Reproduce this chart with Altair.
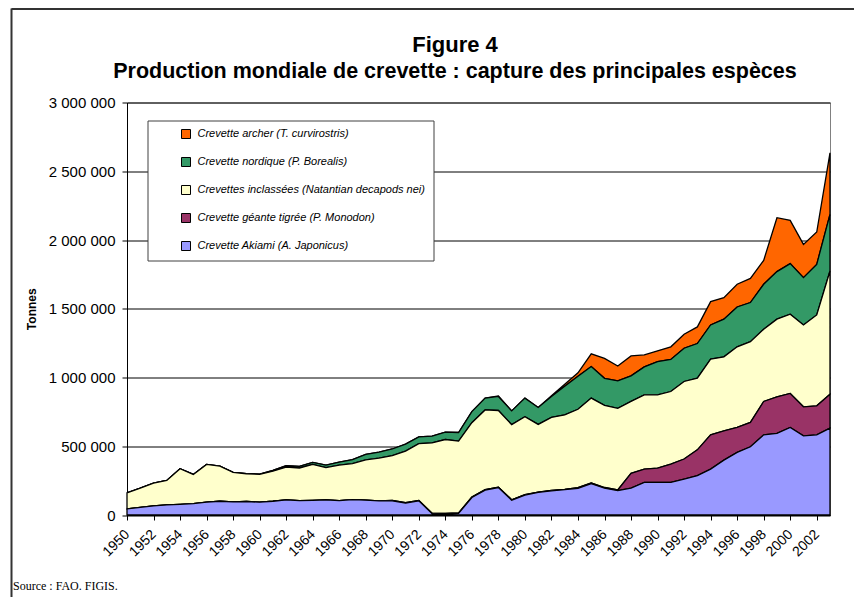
import altair as alt
import pandas as pd

years = list(range(1950, 2004))

# values in thousand tonnes
akiami = [44, 56, 66, 73, 78, 83, 93, 100, 95, 98,
          93, 100, 110, 105, 107, 110, 105, 112, 108, 103,
          103, 86, 103, 10, 8, 12, 127, 181, 200, 108,
          145, 164, 176, 184, 194, 228, 195, 177, 196, 237,
          237, 237, 261, 286, 334, 399, 455, 496, 583, 593,
          637, 576, 583, 632]
tigree = [0, 0, 0, 0, 0, 0, 0, 0, 0, 0,
          0, 0, 0, 0, 0, 0, 0, 0, 0, 0,
          3, 3, 3, 3, 3, 3, 3, 3, 3, 3,
          3, 3, 3, 3, 5, 5, 5, 5, 107, 97,
          104, 133, 146, 188, 249, 213, 182, 177, 243, 266,
          247, 211, 211, 247]
inclassees = [117, 139, 166, 178, 259, 212, 275, 256, 215, 202,
              203, 219, 239, 237, 261, 235, 258, 262, 293, 311,
              325, 376, 413, 511, 538, 522, 541, 580, 557, 546,
              567, 492, 531, 541, 570, 617, 597, 594, 523, 540,
              533, 528, 564, 521, 550, 538, 586, 588, 525, 565,
              576, 595, 661, 896]
nordique = [0, 0, 0, 0, 0, 0, 0, 0, 0, 0,
            2, 5, 9, 12, 15, 18, 22, 28, 40, 44,
            49, 50, 49, 49, 54, 63, 81, 86, 102, 100,
            135, 123, 152, 208, 240, 230, 197, 199, 186, 203,
            242, 233, 242, 252, 249, 274, 290, 284, 327, 346,
            368, 344, 368, 411]
archer = [0, 0, 0, 0, 0, 0, 0, 0, 0, 0,
          0, 0, 0, 0, 0, 0, 0, 0, 0, 0,
          0, 0, 0, 0, 0, 0, 0, 0, 3, 0,
          0, 0, 5, 15, 25, 92, 145, 109, 145, 87,
          78, 92, 102, 121, 170, 157, 165, 176, 174, 392,
          315, 242, 235, 448]

series_names = [
    "Crevette archer (T. curvirostris)",
    "Crevette nordique (P. Borealis)",
    "Crevettes inclassées (Natantian decapods nei)",
    "Crevette géante tigrée (P. Monodon)",
    "Crevette Akiami (A. Japonicus)",
]
series_colors = ["#FF6600", "#339966", "#FFFFCC", "#993366", "#9999FF"]
stack_rank = [4, 3, 2, 1, 0]
x_ticks = list(range(1950, 2003, 2))
y_ticks = [0, 500000, 1000000, 1500000, 2000000, 2500000, 3000000]

title_text = "Figure 4"
subtitle_text = "Production mondiale de crevette : capture des principales espèces"
source_text = "Source : FAO. FIGIS."

rows = []
for name, vals, rank in zip(series_names, [archer, nordique, inclassees, tigree, akiami], stack_rank):
    for yr, v in zip(years, vals):
        rows.append({"annee": yr, "serie": name, "tonnes": v * 1000, "rang": rank})
df = pd.DataFrame(rows)

FONT = "Liberation Sans"

area = alt.Chart(df).mark_area(stroke="black", strokeWidth=1.3, strokeJoin="miter").encode(
    x=alt.X("annee:Q",
            scale=alt.Scale(domain=[1950, 2003], nice=False, zero=False),
            axis=alt.Axis(values=x_ticks, format="d", labelAngle=-45, labelAlign="right",
                          labelBaseline="middle", labelFontSize=14, labelPadding=12,
                          grid=False, tickSize=5, labelFlush=False, labelOverlap=False),
            title=None),
    y=alt.Y("tonnes:Q", stack="zero",
            scale=alt.Scale(domain=[0, 3000000], nice=False),
            axis=alt.Axis(values=y_ticks,
                          labelExpr="replace(format(datum.value, ',d'), regexp(',', 'g'), ' ')",
                          labelFontSize=15, labelPadding=7, tickSize=5, grid=True,
                          gridColor="black", gridWidth=1, titleFontSize=12,
                          titleFontWeight="bold", titlePadding=10),
            title="Tonnes"),
    color=alt.Color("serie:N",
                    scale=alt.Scale(domain=series_names, range=series_colors),
                    sort=series_names,
                    legend=alt.Legend(orient="none", legendX=20.5, legendY=18, title=None,
                                      symbolType="square", symbolSize=81,
                                      symbolStrokeColor="black", symbolStrokeWidth=1,
                                      labelFont=FONT, labelFontStyle="italic",
                                      labelFontSize=11, labelColor="black",
                                      labelLimit=500, fillColor="white",
                                      strokeColor="#404040", padding=8, rowPadding=15,
                                      symbolOffset=25, labelOffset=6)),
    order=alt.Order("rang:Q", sort="ascending"),
)

def text_layer(txt, **kw):
    return alt.Chart(pd.DataFrame({"t": [txt]})).mark_text(color="black", **kw)

title_mark = text_layer(title_text, font=FONT, fontSize=22, fontWeight="bold", align="center",
                        baseline="alphabetic").encode(text="t:N", x=alt.value(328), y=alt.value(-50.5))
subtitle_mark = text_layer(subtitle_text, font=FONT, fontSize=21.5, fontWeight="bold", align="center",
                           baseline="alphabetic").encode(text="t:N", x=alt.value(328), y=alt.value(-25))
source_mark = text_layer(source_text, font="Liberation Serif", fontSize=12, align="left",
                         baseline="alphabetic").encode(text="t:N", x=alt.value(-114), y=alt.value(487))

border_left = alt.Chart(pd.DataFrame({"a": [0]})).mark_rule(color="#333333", strokeWidth=2).encode(
    x=alt.value(-115.5), y=alt.value(-94), y2=alt.value(495))
border_top = alt.Chart(pd.DataFrame({"a": [0]})).mark_rule(color="#333333", strokeWidth=2).encode(
    x=alt.value(-115.5), x2=alt.value(740), y=alt.value(-93.5))

chart = alt.layer(area, title_mark, subtitle_mark, source_mark, border_left, border_top).properties(
    width=703, height=412.5,
    autosize=alt.AutoSizeParams(type="none"),
    padding={"left": 119, "top": 94.5, "right": 24, "bottom": 82},
).configure_axis(
    labelFont=FONT, titleFont=FONT, labelColor="black", titleColor="black",
    domainColor="black", tickColor="black", domainWidth=1,
).configure_view(stroke="#808080", strokeWidth=1)

chart.save("out.html", embed_options={"renderer": "svg", "actions": False})
